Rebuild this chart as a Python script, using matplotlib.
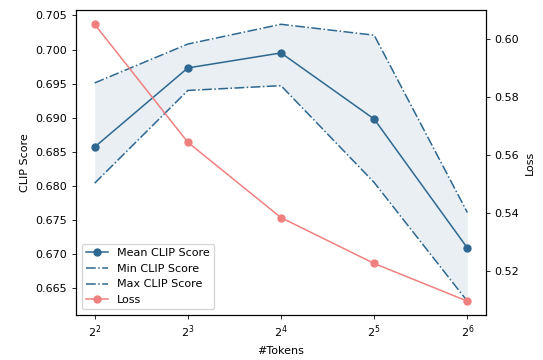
import matplotlib
matplotlib.use("Agg")
import matplotlib.pyplot as plt

tokens = [4, 8, 16, 32, 64]
mean_clip = [0.6857, 0.6973, 0.6995, 0.6898, 0.6709]
min_clip = [0.6804, 0.6940, 0.6947, 0.6805, 0.6631]
max_clip = [0.6951, 0.7008, 0.7037, 0.7021, 0.6761]
loss = [0.6052, 0.5645, 0.5385, 0.5227, 0.5097]

blue = "#2e6891"
red = "#f08080"

plt.rcParams["font.size"] = 8
plt.rcParams["axes.linewidth"] = 0.8
plt.rcParams["xtick.major.width"] = 0.6
plt.rcParams["ytick.major.width"] = 0.6
plt.rcParams["xtick.major.size"] = 2.8
plt.rcParams["ytick.major.size"] = 2.8

fig, ax = plt.subplots(figsize=(5.43, 3.6), dpi=100)
fig.subplots_adjust(left=0.14, right=0.895, top=0.971, bottom=0.125)

ax.set_xscale("log", base=2)
ax.fill_between(tokens, min_clip, max_clip, color=blue, alpha=0.1, linewidth=0)
l1, = ax.plot(tokens, mean_clip, "-o", color=blue, lw=1.1, markersize=5, label="Mean CLIP Score")
l2, = ax.plot(tokens, min_clip, "-.", color=blue, lw=1.1, label="Min CLIP Score")
l3, = ax.plot(tokens, max_clip, "-.", color=blue, lw=1.1, label="Max CLIP Score")
ax.set_xlabel("#Tokens")
ax.set_ylabel("CLIP Score")
ax.set_xticks(tokens)
ax.set_xticklabels(["$2^{%d}$" % p for p in range(2, 7)])
ax.minorticks_off()

ax2 = ax.twinx()
l4, = ax2.plot(tokens, loss, "-o", color=red, lw=1.1, markersize=5, label="Loss")
ax2.set_ylabel("Loss")

ax2.legend(handles=[l1, l2, l3, l4], loc="lower left")

fig.savefig("out.png")
